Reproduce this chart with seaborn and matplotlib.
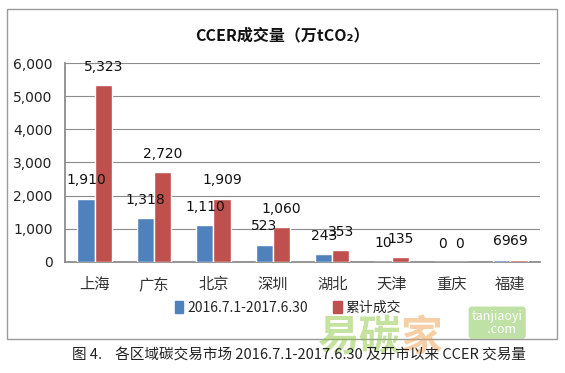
import matplotlib
matplotlib.use("Agg")
import matplotlib.pyplot as plt
import matplotlib.patches as mpatches
import seaborn as sns
import pandas as pd

regions = ["上海", "广东", "北京", "深圳", "湖北", "天津", "重庆", "福建"]
series_names = ["2016.7.1-2017.6.30", "累计成交"]
period_vals = [1910, 1318, 1110, 523, 243, 10, 0, 69]
cumulative_vals = [5323, 2720, 1909, 1060, 353, 135, 0, 69]
yticks = [0, 1000, 2000, 3000, 4000, 5000, 6000]

sns.set_theme(style="white")
plt.rcParams['font.family'] = ['Noto Sans CJK SC', 'DejaVu Sans']

df = pd.DataFrame({
    "region": regions * 2,
    "series": [series_names[0]] * len(regions) + [series_names[1]] * len(regions),
    "value": period_vals + cumulative_vals,
})

fig = plt.figure(figsize=(5.65, 3.73), dpi=100)
fig.patch.set_facecolor("white")
ax = fig.add_axes([0.115, 0.298, 0.841, 0.533])

palette = {series_names[0]: "#4F81BD", series_names[1]: "#C0504D"}
sns.barplot(data=df, x="region", y="value", hue="series", palette=palette,
            width=0.58, gap=0, saturation=1, ax=ax, legend=False, zorder=3)

ax.set_ylim(0, 6000)
ax.set_xlim(-0.5, len(regions) - 0.5)
ax.set_yticks(yticks)
ax.set_yticklabels([f"{v:,}" for v in yticks], fontsize=10, color="#222222",
                   family="DejaVu Sans")
ax.yaxis.grid(True, color="#8c8c8c", linewidth=0.8, zorder=0)
ax.set_axisbelow(True)
ax.set_xlabel("")
ax.set_ylabel("")
ax.tick_params(axis="y", length=0, pad=9)
ax.set_xticks(range(len(regions)))
ax.set_xticklabels(regions, fontsize=11, color="#333333")
ax.tick_params(axis="x", length=0, pad=10)
ax.set_xticks([i - 0.5 for i in range(len(regions) + 1)], minor=True)
ax.tick_params(axis="x", which="minor", length=5, color="#888888", direction="out")
for s in ["top", "right"]:
    ax.spines[s].set_visible(False)
ax.spines["left"].set_color("#888888")
ax.spines["bottom"].set_color("#888888")

for cont in ax.containers:
    ax.bar_label(cont, labels=[f"{int(v.get_height()):,}" for v in cont],
                 padding=8, fontsize=10, color="#111111", family="DejaVu Sans")

fig.text(0.50, 0.905, "CCER成交量（万tCO₂）", ha="center", va="center",
         fontsize=11.5, fontweight="bold", color="#111111")

handles = [mpatches.Patch(color=palette[n], label=n) for n in series_names]
fig.legend(handles=handles, loc="center", bbox_to_anchor=(0.51, 0.175), ncol=2,
           frameon=False, fontsize=10, handlelength=0.6, handleheight=0.9,
           handletextpad=0.3, columnspacing=1.8)

frame = mpatches.Rectangle((0.013, 0.092), 0.972, 0.884, transform=fig.transFigure,
                           fill=False, edgecolor="#9a9a9a", linewidth=1.0)
fig.patches.append(frame)

# watermark
fig.text(0.635, 0.095, "易碳", ha="center", va="center", fontsize=30,
         color="#8cc63f", alpha=0.5, fontweight="bold")
fig.text(0.745, 0.095, "家", ha="center", va="center", fontsize=30,
         color="#f0a050", alpha=0.5, fontweight="bold")
fig.text(0.88, 0.135, "tanjiaoyi\n   .com", ha="center", va="center", fontsize=9,
         color="white", style="italic", linespacing=1.0,
         bbox=dict(boxstyle="round,pad=0.25", fc="#8bc95c", ec="none", alpha=0.55))

fig.text(0.53, 0.048, "图 4.    各区域碳交易市场 2016.7.1-2017.6.30 及开市以来 CCER 交易量",
         ha="center", va="center", fontsize=10.5, color="#222222", zorder=5)

fig.savefig("out.png", dpi=100, facecolor="white")
